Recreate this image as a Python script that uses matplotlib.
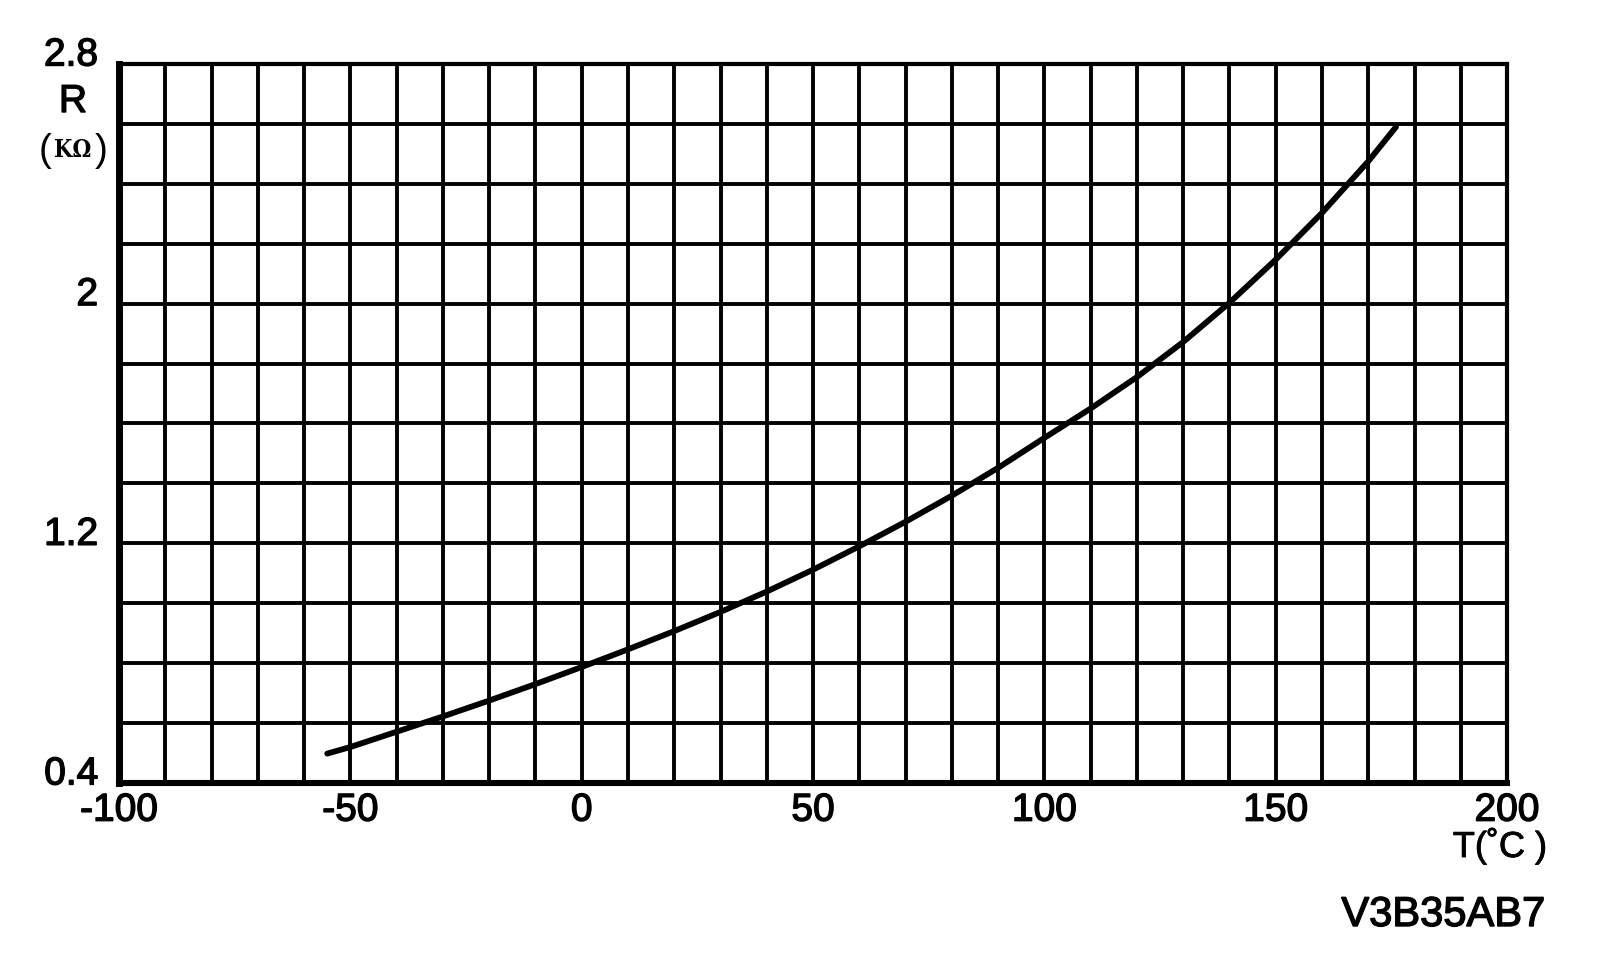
import numpy as np
import matplotlib
matplotlib.use("Agg")
import matplotlib.pyplot as plt
import matplotlib.patheffects as pe
from matplotlib.transforms import ScaledTranslation

# ---- data ----
temp_c = [-55, -50, -40, -30, -20, -10, 0, 10, 20, 30, 40, 50, 60, 70, 80,
          90, 100, 110, 120, 130, 140, 150, 160, 170, 176]
resist_k = [0.498, 0.520, 0.571, 0.622, 0.675, 0.730, 0.787, 0.846, 0.907,
            0.971, 1.039, 1.112, 1.190, 1.272, 1.359, 1.452, 1.552, 1.650,
            1.755, 1.872, 2.003, 2.147, 2.303, 2.475, 2.590]

x_ticks = [-100, -50, 0, 50, 100, 150, 200]
x_tick_labels = ["-100", "-50", "0", "50", "100", "150", "200"]
y_ticks = [0.4, 1.2, 2.0, 2.8]
y_tick_labels = ["0.4", "1.2", "2", "2.8"]
x_grid = np.arange(-100, 201, 10)
y_grid = np.round(np.arange(0.4, 2.81, 0.2), 2)

plt.rcParams['font.family'] = ['Liberation Sans', 'DejaVu Sans']
thick = [pe.withStroke(linewidth=1.0, foreground='black')]
thin = [pe.withStroke(linewidth=0.6, foreground='black')]

fig = plt.figure(figsize=(16, 9.64), dpi=100)
ax = fig.add_axes([0.0744, 0.1878, 0.8675, 0.7458])
ax.set_xlim(-100, 200)
ax.set_ylim(0.4, 2.8)

# grid
for xv in x_grid[1:-1]:
    ax.axvline(xv, color='black', lw=2.8, zorder=1)
for yv in y_grid[1:-1]:
    ax.axhline(yv, color='black', lw=2.8, zorder=1)

# curve
ax.plot(temp_c, resist_k, color='black', lw=4.2, solid_capstyle='round',
        solid_joinstyle='round', zorder=3)

# spines
ax.spines['left'].set_linewidth(5.0)
ax.spines['bottom'].set_linewidth(4.4)
ax.spines['top'].set_linewidth(3.0)
ax.spines['right'].set_linewidth(3.0)
for s in ax.spines.values():
    s.set_color('black')
    s.set_zorder(4)

ax.set_xticks(x_ticks)
ax.set_xticklabels(x_tick_labels)
ax.set_yticks(y_ticks)
ax.set_yticklabels(y_tick_labels)
ax.tick_params(axis='both', length=0, labelsize=28, colors='black')
ax.tick_params(axis='x', pad=7)
ax.tick_params(axis='y', pad=15)
off = ScaledTranslation(0, 9 / 72, fig.dpi_scale_trans)
for lab in ax.get_yticklabels():
    lab.set_transform(lab.get_transform() + off)
    lab.set_path_effects(thick)
for lab in ax.get_xticklabels():
    lab.set_path_effects(thick)

# axis labels
fig.text(73 / 1600, 1 - 102 / 964, "R", fontsize=28, ha='center', va='center',
         path_effects=thick)
fig.text(45 / 1600, 1 - 151 / 964, "(", fontsize=28, ha='center', va='center',
         weight='light')
fig.text(101 / 1600, 1 - 151 / 964, ")", fontsize=28, ha='center', va='center',
         weight='light')
fig.text(73 / 1600, 1 - 150 / 964, "KΩ", fontsize=17, ha='center', va='center',
         family=['DejaVu Serif'], weight='bold', stretch='condensed')
fig.text(1500 / 1600, 1 - 846 / 964, "T(˚C )", fontsize=26, ha='center', va='center',
         path_effects=thin)
fig.text(1545 / 1600, 1 - 915 / 964, "V3B35AB7", fontsize=30, ha='right', va='center',
         path_effects=thick)

fig.savefig("out.png", dpi=100, facecolor='white')
